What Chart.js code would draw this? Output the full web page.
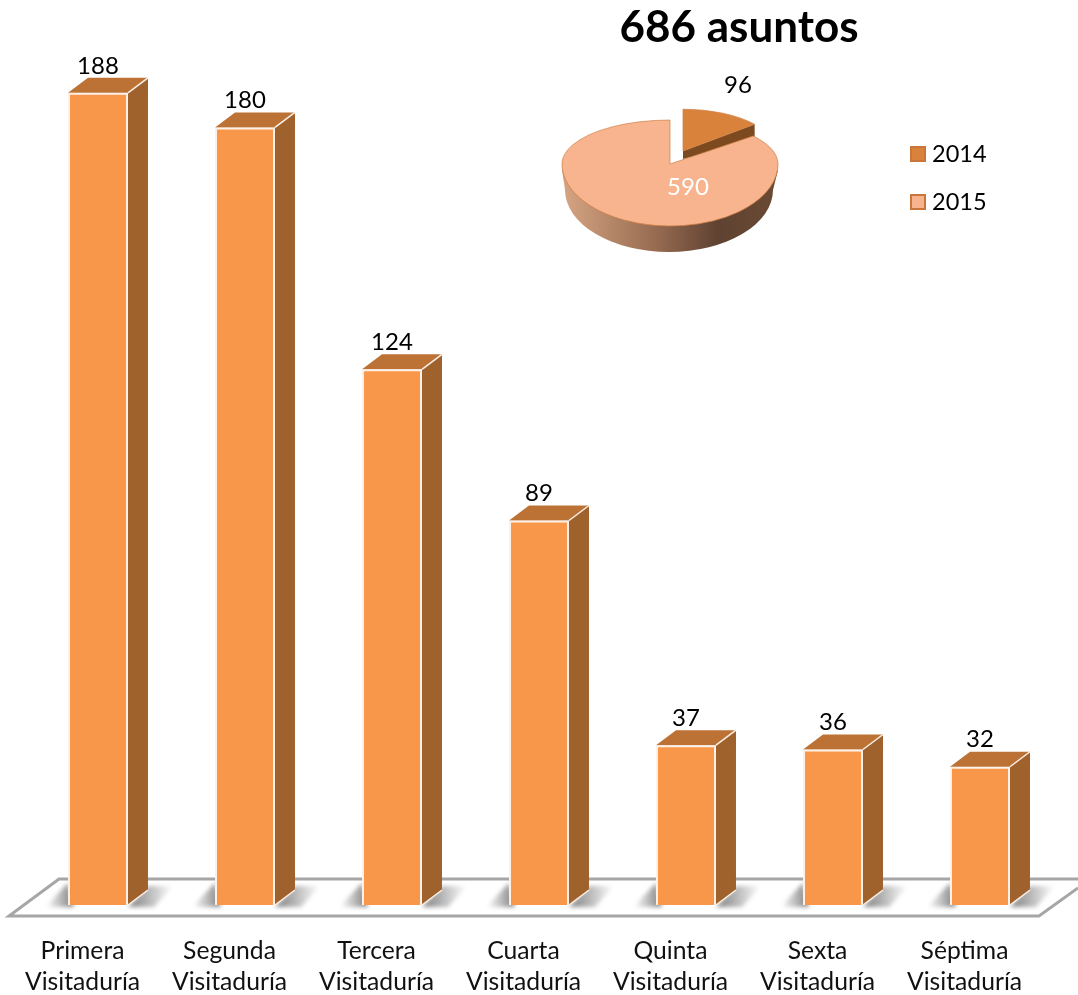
<!DOCTYPE html>
<html><head><meta charset="utf-8">
<style>html,body{margin:0;padding:0;background:#fff;overflow:hidden}
#wrap{position:relative;width:1078px;height:995px}
#bars{position:absolute;left:0;top:0}
#pie{position:absolute;left:520px;top:48px}</style>
<script src="https://cdn.jsdelivr.net/npm/chart.js@4"></script>
</head><body>
<div id="wrap"><canvas id="bars" width="1078" height="995"></canvas><canvas id="pie" width="558" height="240"></canvas></div>
<script>
const categories=[["Primera","Visitaduría"],["Segunda","Visitaduría"],["Tercera","Visitaduría"],["Cuarta","Visitaduría"],["Quinta","Visitaduría"],["Sexta","Visitaduría"],["Séptima","Visitaduría"]];
const barValues=[188,180,124,89,37,36,32];
const pieLabels=["2014","2015"];
const pieValues=[96,590];
const titleText="686 asuntos";
const FONT='Lato, "Open Sans", sans-serif';
const DX=20,DY=15;

const barDecor={id:'barDecor',
 beforeDatasetsDraw(c){
  const x=c.ctx;x.save();
  // floor
  x.strokeStyle='#a6a6a6';x.lineWidth=3;
  x.beginPath();x.moveTo(1078,888);x.lineTo(1039,916);x.lineTo(9,916);x.lineTo(59,879);x.lineTo(1078,879);x.stroke();
  // shadows and the hidden faces
  const bars=c.getDatasetMeta(0).data;
  x.save();x.filter='blur(2px)';
  bars.forEach(b=>{
   const l=b.x-b.width/2,r=b.x+b.width/2,base=b.base;
   let g=x.createLinearGradient(l-22,0,l+2,0);g.addColorStop(0,'rgba(105,105,105,0)');g.addColorStop(1,'rgba(105,105,105,.75)');
   x.fillStyle=g;x.beginPath();x.moveTo(l-23,base+2);x.lineTo(l,base-22);x.lineTo(l+6,base+2);x.fill();
   g=x.createLinearGradient(r+6,0,r+45,0);g.addColorStop(0,'rgba(105,105,105,.75)');g.addColorStop(1,'rgba(105,105,105,0)');
   x.fillStyle=g;x.beginPath();x.moveTo(r,base+2);x.lineTo(r+DX,base-19);x.lineTo(r+45,base-19);x.lineTo(r+26,base+2);x.fill();
  });
  x.restore();
  bars.forEach(b=>{
   const l=b.x-b.width/2,r=b.x+b.width/2,base=b.base;
   // side
   x.fillStyle='#a0622d';
   x.beginPath();x.moveTo(r,b.y);x.lineTo(r+DX,b.y-DY);x.lineTo(r+DX,base-DY);x.lineTo(r,base);x.closePath();x.fill();
   x.strokeStyle='#fdf0e6';x.lineWidth=1.5;
   x.beginPath();x.moveTo(r+DX,base-DY);x.lineTo(r,base);x.stroke();
   // top
   x.fillStyle='#bc7234';
   x.beginPath();x.moveTo(l,b.y);x.lineTo(l+DX,b.y-DY);x.lineTo(r+DX,b.y-DY);x.lineTo(r,b.y);x.closePath();x.fill();
   x.beginPath();x.moveTo(r,b.y);x.lineTo(r+DX,b.y-DY);x.stroke();
  });
  x.restore();
 },
 afterDatasetsDraw(c){
  const x=c.ctx;x.save();
  x.fillStyle='#000';x.textAlign='center';x.textBaseline='middle';
  x.font='24px '+FONT;
  c.getDatasetMeta(0).data.forEach((b,i)=>x.fillText(barValues[i],b.x,b.y-27));
  x.font='bold 44px '+FONT;
  x.fillText(titleText,739,28);
  x.restore();
 }};

new Chart(document.getElementById('bars'),{type:'bar',
 data:{labels:categories,datasets:[{data:barValues,backgroundColor:'#f8974a',borderColor:'#fdf0e6',borderWidth:2,barPercentage:.408,categoryPercentage:1}]},
 plugins:[barDecor],
 options:{responsive:false,animation:false,
  layout:{padding:{left:24.5,right:24.5,top:41,bottom:0}},
  plugins:{legend:{display:false},tooltip:{enabled:false}},
  scales:{
   y:{display:false,min:0,max:200},
   x:{afterFit(a){a.height=90},grid:{display:false},border:{display:false},
    ticks:{color:'#111',font:{family:FONT,size:24.7,lineHeight:1.26},labelOffset:-15.5,padding:22,maxRotation:0,autoSkip:false}}
  }}});

// pie: where each slice's apex goes on this canvas, its vertical squash, its radius
const sliceView=[{cx:163,cy:103,up:.45,down:.45,r:93},{cx:150,cy:116,up:.407,down:.574,r:108}];
const COL=['#d9823b','#f7b48e'];
const pieDecor={id:'pieDecor',
 beforeDatasetsDraw(c){
  const x=c.ctx,arcs=c.getDatasetMeta(0).data;
  const draw=(a,v)=>{
   a.outerRadius=v.r;
   [[-400,v.cy+400,v.up],[v.cy,400,v.down]].forEach(([top,h,s])=>{
    x.save();x.beginPath();x.rect(0,top,c.width,h);x.clip();
    x.translate(v.cx,v.cy);x.scale(1,s);x.translate(-a.x,-a.y);
    a.draw(x);x.restore();
   });
  };
  // 2014 wall along its right cut
  const v0=sliceView[0],ang=arcs[0].endAngle;
  const tx=v0.cx+Math.cos(ang)*v0.r,ty=v0.cy+Math.sin(ang)*v0.r*v0.up;
  x.fillStyle='#7c4a1e';x.beginPath();x.moveTo(v0.cx,v0.cy);x.lineTo(tx,ty);x.lineTo(tx,ty+16);x.lineTo(v0.cx,v0.cy+8);x.closePath();x.fill();
  draw(arcs[0],v0);
  // 2015 rim
  const v=sliceView[1],g=x.createLinearGradient(v.cx-108,0,v.cx+108,0);
  g.addColorStop(0,'#d6a583');g.addColorStop(.45,'#94694f');g.addColorStop(.72,'#5f4232');g.addColorStop(1,'#6b4a33');
  x.fillStyle=g;x.beginPath();x.moveTo(v.cx-108,v.cy+6);x.lineTo(v.cx-105,v.cy+26);
  x.ellipse(v.cx-1,v.cy+26,104,v.r*v.down,0,Math.PI,0,true);x.lineTo(v.cx+108,v.cy+6);x.closePath();x.fill();
  draw(arcs[1],v);
  return false;
 },
 afterDraw(c){
  const x=c.ctx;x.save();x.textAlign='center';x.textBaseline='middle';x.font='24px '+FONT;
  x.fillStyle='#000';x.fillText(pieValues[0],218,37);
  x.fillStyle='#fff';x.fillText(pieValues[1],168,139);
  x.textAlign='left';x.font='23.5px '+FONT;
  pieLabels.forEach((t,i)=>{
   const y=106+i*48;
   x.fillStyle=COL[i];x.strokeStyle='#c8763a';x.lineWidth=2;
   x.fillRect(391,y-7,14,14);x.strokeRect(391,y-7,14,14);
   x.fillStyle='#000';x.fillText(t,412,y);
  });
  x.restore();
 }};
new Chart(document.getElementById('pie'),{type:'pie',
 data:{labels:pieLabels,datasets:[{data:pieValues,backgroundColor:COL,borderColor:'#cf8045',borderWidth:1}]},
 plugins:[pieDecor],
 options:{responsive:false,animation:false,radius:108,layout:{padding:{right:258}},
  plugins:{legend:{display:false},tooltip:{enabled:false}}}});
</script>
</body></html>
